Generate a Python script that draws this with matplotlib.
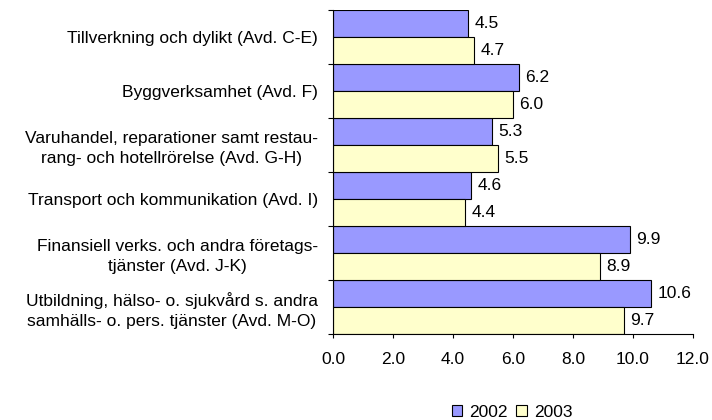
import numpy as np
import matplotlib.pyplot as plt
from matplotlib.ticker import FixedLocator, FormatStrFormatter

plt.rcParams['font.family'] = ['Liberation Sans', 'DejaVu Sans']

categories = [
    "Tillverkning och dylikt (Avd. C-E)",
    "Byggverksamhet (Avd. F)",
    "Varuhandel, reparationer samt restau-\nrang- och hotellrörelse (Avd. G-H)",
    "Transport och kommunikation (Avd. I)",
    "Finansiell verks. och andra företags-\ntjänster (Avd. J-K)",
    "Utbildning, hälso- o. sjukvård s. andra\nsamhälls- o. pers. tjänster (Avd. M-O)",
]
values_2002 = [4.5, 6.2, 5.3, 4.6, 9.9, 10.6]
values_2003 = [4.7, 6.0, 5.5, 4.4, 8.9, 9.7]
years = ["2002", "2003"]
colors = ["#9999FF", "#FFFFCC"]

fig = plt.figure(figsize=(7.12, 4.2), dpi=100)
ax = fig.add_axes([0.4677, 0.2048, 0.5056, 0.7714])

n = len(categories)
y = np.arange(n)
h = 0.5
b1 = ax.barh(y - h / 2, values_2002, height=h, color=colors[0], edgecolor="black", linewidth=0.8, label=years[0])
b2 = ax.barh(y + h / 2, values_2003, height=h, color=colors[1], edgecolor="black", linewidth=0.8, label=years[1])

for bars, vals in [(b1, values_2002), (b2, values_2003)]:
    for bar, v in zip(bars, vals):
        ax.text(v + 0.22, bar.get_y() + bar.get_height() / 2, f"{v:.1f}",
                va="center", ha="left", fontsize=12.5)

ax.set_ylim(n - 0.5, -0.5)
ax.set_xlim(0, 12)
ax.set_xticks(np.arange(0, 13, 2))
ax.xaxis.set_major_formatter(FormatStrFormatter("%.1f"))

# ticks at group boundaries, labels at group centres
ax.yaxis.set_major_locator(FixedLocator(np.arange(n + 1) - 0.5))
ax.yaxis.set_major_formatter(plt.NullFormatter())
ax.yaxis.set_minor_locator(FixedLocator(y))
ax.set_yticklabels(categories, minor=True, ha="right", multialignment="center",
                   linespacing=1.4)
ax.tick_params(axis="y", which="minor", length=0, pad=11, labelsize=12.5)
ax.tick_params(axis="y", which="major", length=3.6, width=0.8)
ax.tick_params(axis="x", length=3, width=0.8, labelsize=12.5, pad=10)

ax.spines["top"].set_visible(False)
ax.spines["right"].set_visible(False)

fig.legend(handles=[b1, b2], loc="center", bbox_to_anchor=(0.719, 0.019), ncol=2,
           frameon=False, fontsize=12.5, handlelength=0.6, handleheight=0.6,
           handletextpad=0.4, columnspacing=0.5, borderpad=0.0)

fig.savefig("out.png", dpi=100)
